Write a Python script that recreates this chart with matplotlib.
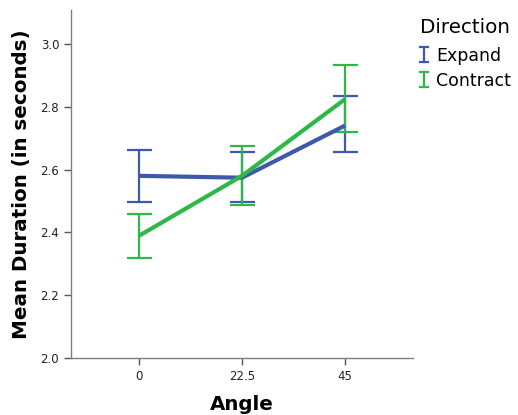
import matplotlib
matplotlib.use("Agg")
import matplotlib.pyplot as plt
from matplotlib.legend_handler import HandlerBase
from matplotlib.lines import Line2D

angles = ["0", "22.5", "45"]
expand_mean = [2.580, 2.574, 2.740]
expand_low = [2.496, 2.496, 2.655]
expand_high = [2.663, 2.655, 2.834]
contract_mean = [2.389, 2.580, 2.824]
contract_low = [2.319, 2.486, 2.720]
contract_high = [2.459, 2.674, 2.934]

blue = "#3E58AC"
green = "#2EB848"


class IBeamHandler(HandlerBase):
    def create_artists(self, legend, orig_handle, xdescent, ydescent, width, height,
                       fontsize, trans):
        col = orig_handle.get_color()
        cx = width / 2 - xdescent
        h = height * 1.25
        y0 = -ydescent + (height - h) / 2
        y1 = y0 + h
        cw = width * 0.5
        arts = [
            Line2D([cx, cx], [y0, y1], color=col, lw=1.6),
            Line2D([cx - cw, cx + cw], [y0, y0], color=col, lw=1.6),
            Line2D([cx - cw, cx + cw], [y1, y1], color=col, lw=1.6),
        ]
        for a in arts:
            a.set_transform(trans)
        return arts


fig = plt.figure(figsize=(5.18, 4.15), dpi=100)
ax = fig.add_axes([71/518, 57/415, (413-71)/518, (358-10)/415])
x = list(range(len(angles)))

handles = []
for mean, lo, hi, col, lab in [(expand_mean, expand_low, expand_high, blue, "Expand"),
                               (contract_mean, contract_low, contract_high, green, "Contract")]:
    yerr = [[m - l for m, l in zip(mean, lo)], [h - m for m, h in zip(mean, hi)]]
    ax.plot(x, mean, color=col, lw=3, solid_capstyle="butt", zorder=3)
    ax.errorbar(x, mean, yerr=yerr, fmt="none", ecolor=col, elinewidth=1.6,
                capsize=9, capthick=1.6, zorder=2)
    handles.append(Line2D([], [], color=col))

ax.set_xlim(-0.66, 2.66)
ax.set_ylim(2.0, 3.108)
ax.set_xticks(x)
ax.set_xticklabels(angles)
ax.set_yticks([2.0, 2.2, 2.4, 2.6, 2.8, 3.0])
ax.set_yticklabels(["2.0", "2.2", "2.4", "2.6", "2.8", "3.0"])
for s in ["top", "right"]:
    ax.spines[s].set_visible(False)
for s in ["left", "bottom"]:
    ax.spines[s].set_color("#7f7f7f")
    ax.spines[s].set_linewidth(1)
ax.tick_params(axis="both", colors="#555555", labelcolor="#222222", labelsize=8.5,
               length=5, width=1)
ax.set_xlabel("Angle", fontsize=14.3, fontweight="bold", labelpad=9)
ax.set_ylabel("Mean Duration (in seconds)", fontsize=14.3, fontweight="bold", labelpad=7)

leg = fig.legend(handles=handles, labels=["Expand", "Contract"], title="Direction",
                 loc="upper left", bbox_to_anchor=(420/518, 1 - 18/415), frameon=False,
                 fontsize=12.5, title_fontsize=14.3, handlelength=0.45, handletextpad=0.5,
                 labelspacing=0.4, borderaxespad=0, borderpad=0,
                 handler_map={Line2D: IBeamHandler()})
leg._legend_box.align = "left"
leg._legend_box.sep = 7

fig.savefig("out.png", dpi=100)
